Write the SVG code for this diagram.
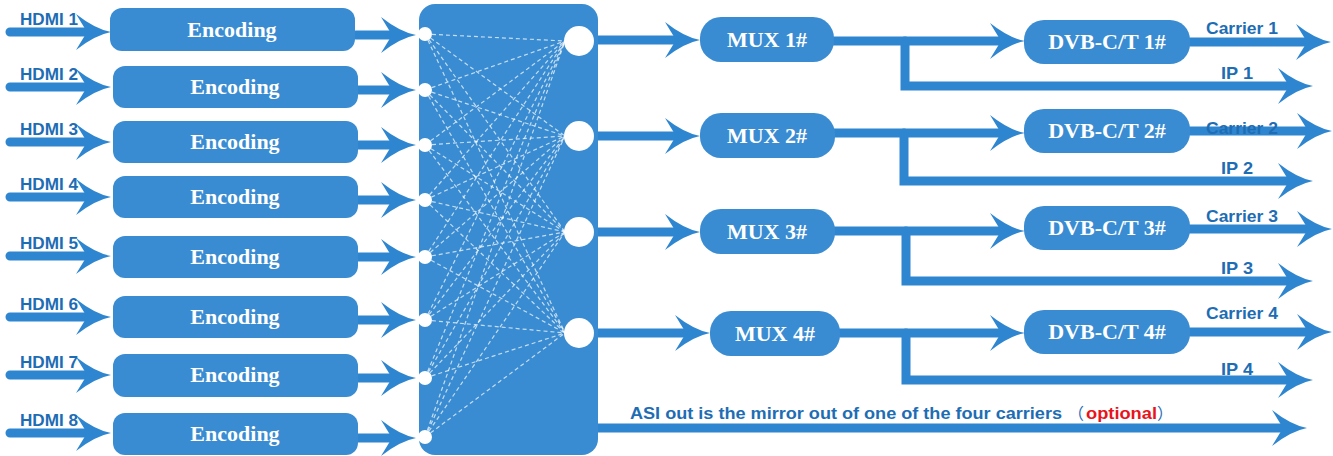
<svg xmlns="http://www.w3.org/2000/svg" xmlns:xlink="http://www.w3.org/1999/xlink" width="1333" height="456" viewBox="0 0 1333 456">
<defs>
<style>
.box{fill:#3A8CD2;}
.ln{stroke:#2F86D0;stroke-width:9;stroke-linecap:round;fill:none;}
.ah{fill:#2F86D0;}
.bt{font-family:"Liberation Serif","Times New Roman",serif;font-weight:bold;font-size:22px;fill:#FFFFFF;text-anchor:middle;}
.lb{font-family:"Liberation Sans",Arial,sans-serif;font-weight:bold;font-size:16.5px;fill:#1E6DB4;}
.dl{stroke:#FFFFFF;stroke-opacity:0.7;stroke-width:1.2;stroke-dasharray:4 3;fill:none;}
.dot{fill:#FFFFFF;}
</style>
<path id="ah" d="M0,0 Q-16,-3 -35,-18 L-24,0 L-35,18 Q-16,3 0,0 Z"/>
</defs>
<rect width="1333" height="456" fill="#FFFFFF"/>

<g id="connectors">
  <!-- HDMI inputs -->
  <path class="ln" d="M10,32H95M10,87H95M10,142H95M10,197H95M10,256H95M10,317H95M10,375H95M10,433H95"/>
  <g class="ah">
    <use xlink:href="#ah" x="111" y="32"/><use xlink:href="#ah" x="111" y="87"/>
    <use xlink:href="#ah" x="111" y="142"/><use xlink:href="#ah" x="111" y="197"/>
    <use xlink:href="#ah" x="111" y="256"/><use xlink:href="#ah" x="111" y="317"/>
    <use xlink:href="#ah" x="111" y="375"/><use xlink:href="#ah" x="111" y="433"/>
  </g>
  <!-- Encoding outputs -->
  <path class="ln" d="M356,35H400M358,90H400M358,145H400M358,200H400M358,257H400M358,320H400M358,378H400M358,438H400"/>
  <g class="ah">
    <use xlink:href="#ah" x="416" y="35"/><use xlink:href="#ah" x="416" y="90"/>
    <use xlink:href="#ah" x="416" y="145"/><use xlink:href="#ah" x="416" y="200"/>
    <use xlink:href="#ah" x="416" y="257"/><use xlink:href="#ah" x="416" y="320"/>
    <use xlink:href="#ah" x="416" y="378"/><use xlink:href="#ah" x="416" y="438"/>
  </g>
  <!-- Matrix outputs to MUX -->
  <path class="ln" d="M594,40H684M594,136H684M594,232H684M594,333H692"/>
  <g class="ah">
    <use xlink:href="#ah" x="700" y="40"/><use xlink:href="#ah" x="700" y="136"/>
    <use xlink:href="#ah" x="700" y="232"/><use xlink:href="#ah" x="710" y="333"/>
  </g>
  <!-- MUX to DVB -->
  <path class="ln" d="M834,41H1008M834,133H1008M835,231H1008M840,333H1008"/>
  <g class="ah">
    <use xlink:href="#ah" x="1025" y="41"/><use xlink:href="#ah" x="1025" y="133"/>
    <use xlink:href="#ah" x="1025" y="231"/><use xlink:href="#ah" x="1025" y="333"/>
  </g>
  <!-- IP branches -->
  <path class="ln" d="M905,41V86H1296M904,133V181H1296M906,231V281H1296M906,333V380H1296"/>
  <g class="ah">
    <use xlink:href="#ah" x="1313" y="86"/><use xlink:href="#ah" x="1313" y="181"/>
    <use xlink:href="#ah" x="1313" y="281"/><use xlink:href="#ah" x="1313" y="380"/>
  </g>
  <!-- Carrier outputs -->
  <path class="ln" d="M1190,42H1313M1190,131H1313M1190,229H1313M1190,332H1313"/>
  <g class="ah">
    <use xlink:href="#ah" x="1331" y="42"/><use xlink:href="#ah" x="1332" y="131"/>
    <use xlink:href="#ah" x="1332" y="229"/><use xlink:href="#ah" x="1332" y="332"/>
  </g>
  <!-- ASI -->
  <path class="ln" d="M598,428H1290"/>
  <use class="ah" xlink:href="#ah" x="1307" y="428"/>
</g>

<g id="hdmi-labels">
  <text class="lb" x="20" y="25" textLength="58" lengthAdjust="spacingAndGlyphs">HDMI 1</text>
  <text class="lb" x="20" y="80" textLength="58" lengthAdjust="spacingAndGlyphs">HDMI 2</text>
  <text class="lb" x="20" y="135" textLength="58" lengthAdjust="spacingAndGlyphs">HDMI 3</text>
  <text class="lb" x="20" y="190" textLength="58" lengthAdjust="spacingAndGlyphs">HDMI 4</text>
  <text class="lb" x="20" y="249" textLength="58" lengthAdjust="spacingAndGlyphs">HDMI 5</text>
  <text class="lb" x="20" y="310" textLength="58" lengthAdjust="spacingAndGlyphs">HDMI 6</text>
  <text class="lb" x="20" y="368" textLength="58" lengthAdjust="spacingAndGlyphs">HDMI 7</text>
  <text class="lb" x="20" y="426" textLength="58" lengthAdjust="spacingAndGlyphs">HDMI 8</text>
</g>

<g id="enc1"><rect class="box" x="110" y="8" width="245" height="43" rx="12"/><text class="bt" x="232" y="37">Encoding</text></g>
<g id="enc2"><rect class="box" x="113" y="66" width="245" height="42" rx="12"/><text class="bt" x="235" y="94">Encoding</text></g>
<g id="enc3"><rect class="box" x="113" y="121" width="245" height="42" rx="12"/><text class="bt" x="235" y="149">Encoding</text></g>
<g id="enc4"><rect class="box" x="113" y="176" width="245" height="42" rx="12"/><text class="bt" x="235" y="204">Encoding</text></g>
<g id="enc5"><rect class="box" x="113" y="236" width="245" height="42" rx="12"/><text class="bt" x="235" y="264">Encoding</text></g>
<g id="enc6"><rect class="box" x="113" y="296" width="245" height="42" rx="12"/><text class="bt" x="235" y="324">Encoding</text></g>
<g id="enc7"><rect class="box" x="113" y="354" width="245" height="43" rx="12"/><text class="bt" x="235" y="382">Encoding</text></g>
<g id="enc8"><rect class="box" x="113" y="413" width="245" height="42" rx="12"/><text class="bt" x="235" y="441">Encoding</text></g>

<g id="matrix">
  <rect class="box" x="419" y="4" width="179" height="451" rx="16"/>
  <g class="dl">
    <path d="M425,34L565,41M425,34L565,136M425,34L565,232M425,34L565,333"/>
    <path d="M425,90L565,41M425,90L565,136M425,90L565,232M425,90L565,333"/>
    <path d="M425,145L565,41M425,145L565,136M425,145L565,232M425,145L565,333"/>
    <path d="M425,200L565,41M425,200L565,136M425,200L565,232M425,200L565,333"/>
    <path d="M425,257L565,41M425,257L565,136M425,257L565,232M425,257L565,333"/>
    <path d="M425,320L565,41M425,320L565,136M425,320L565,232M425,320L565,333"/>
    <path d="M425,378L565,41M425,378L565,136M425,378L565,232M425,378L565,333"/>
    <path d="M425,437L565,41M425,437L565,136M425,437L565,232M425,437L565,333"/>
  </g>
  <g class="dot">
    <circle cx="425" cy="34" r="7"/><circle cx="425" cy="90" r="7"/>
    <circle cx="425" cy="145" r="7"/><circle cx="425" cy="200" r="7"/>
    <circle cx="425" cy="257" r="7"/><circle cx="425" cy="320" r="7"/>
    <circle cx="425" cy="378" r="7"/><circle cx="425" cy="437" r="7"/>
    <circle cx="579" cy="41" r="15"/><circle cx="579" cy="136" r="15"/>
    <circle cx="579" cy="232" r="15"/><circle cx="579" cy="333" r="15"/>
  </g>
</g>

<g id="mux1"><rect class="box" x="700" y="17" width="134" height="45" rx="21"/><text class="bt" x="767" y="47">MUX 1#</text></g>
<g id="mux2"><rect class="box" x="700" y="113" width="135" height="45" rx="21"/><text class="bt" x="767" y="143">MUX 2#</text></g>
<g id="mux3"><rect class="box" x="700" y="209" width="135" height="45" rx="21"/><text class="bt" x="767" y="239">MUX 3#</text></g>
<g id="mux4"><rect class="box" x="710" y="311" width="130" height="45" rx="21"/><text class="bt" x="775" y="341">MUX 4#</text></g>

<g id="dvb1"><rect class="box" x="1024" y="20" width="166" height="44" rx="20"/><text class="bt" x="1107" y="49">DVB-C/T 1#</text></g>
<g id="dvb2"><rect class="box" x="1024" y="109" width="166" height="44" rx="20"/><text class="bt" x="1107" y="138">DVB-C/T 2#</text></g>
<g id="dvb3"><rect class="box" x="1024" y="206" width="166" height="44" rx="20"/><text class="bt" x="1107" y="235">DVB-C/T 3#</text></g>
<g id="dvb4"><rect class="box" x="1024" y="310" width="166" height="44" rx="20"/><text class="bt" x="1107" y="339">DVB-C/T 4#</text></g>

<g id="output-labels">
  <text class="lb" x="1206" y="34" textLength="72" lengthAdjust="spacingAndGlyphs">Carrier 1</text>
  <text class="lb" x="1206" y="134" textLength="72" lengthAdjust="spacingAndGlyphs">Carrier 2</text>
  <text class="lb" x="1206" y="222" textLength="72" lengthAdjust="spacingAndGlyphs">Carrier 3</text>
  <text class="lb" x="1206" y="319" textLength="72" lengthAdjust="spacingAndGlyphs">Carrier 4</text>
  <text class="lb" x="1221" y="79" textLength="32" lengthAdjust="spacingAndGlyphs">IP 1</text>
  <text class="lb" x="1221" y="174" textLength="32" lengthAdjust="spacingAndGlyphs">IP 2</text>
  <text class="lb" x="1221" y="274" textLength="32" lengthAdjust="spacingAndGlyphs">IP 3</text>
  <text class="lb" x="1221" y="375" textLength="32" lengthAdjust="spacingAndGlyphs">IP 4</text>
</g>

<g id="asi-label">
  <text class="lb" x="630" y="419" textLength="432" lengthAdjust="spacingAndGlyphs" style="font-size:16px;">ASI out is the mirror out of one of the four carriers</text>
  <text x="1068" y="419" style="font-family:'Noto Sans CJK SC',sans-serif;font-size:16px;fill:#1E6DB4;">（</text>
  <text class="lb" x="1086" y="419" textLength="71" lengthAdjust="spacingAndGlyphs" style="fill:#E8141C;font-size:16px;">optional</text>
  <text x="1157" y="419" style="font-family:'Noto Sans CJK SC',sans-serif;font-size:16px;fill:#1E6DB4;">）</text>
</g>
</svg>
